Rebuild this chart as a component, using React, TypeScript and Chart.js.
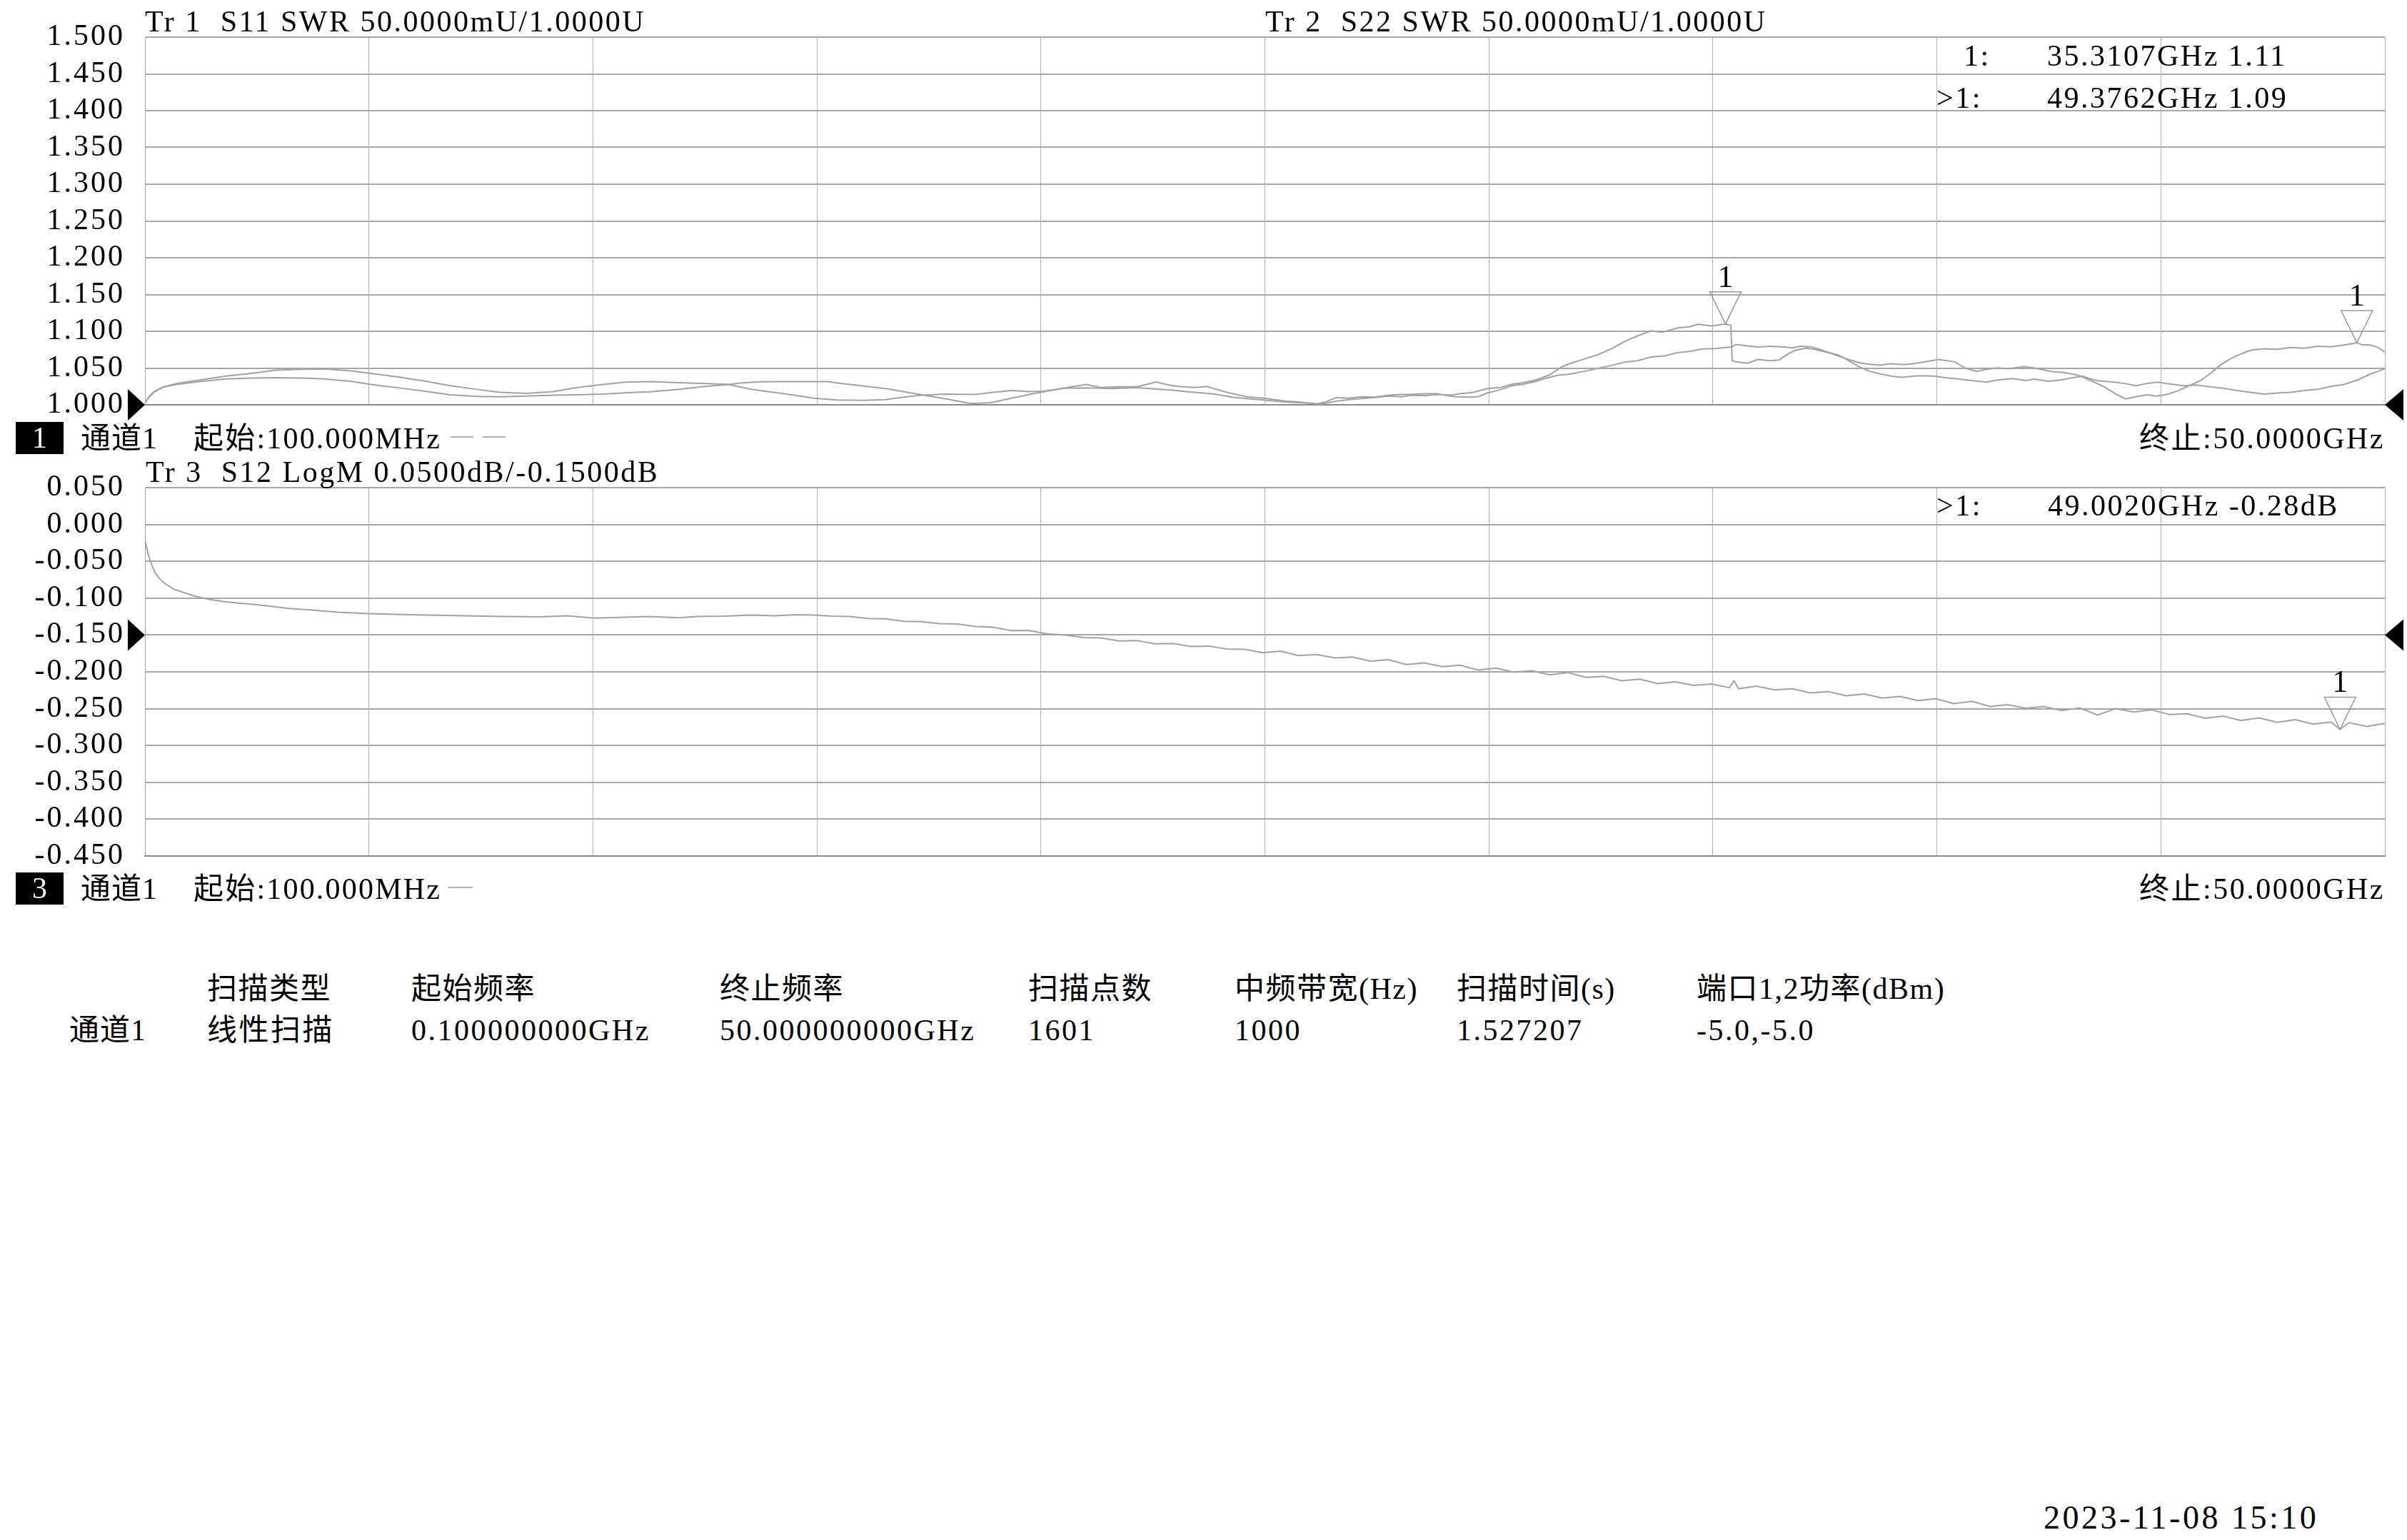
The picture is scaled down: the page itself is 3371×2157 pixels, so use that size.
import React, { useEffect, useRef } from 'react';
import { Chart, registerables } from 'chart.js';

Chart.register(...registerables);

const FONT = "'Liberation Serif', 'Noto Sans CJK SC', serif";
const PAGE_W = 3371;
const PAGE_H = 2157;

// ---- axes ----
const X_MIN = 0.1;
const X_MAX = 50.0;
const X_GRID = [0.1, 5.09, 10.08, 15.07, 20.06, 25.05, 30.04, 35.03, 40.02, 45.01, 50.0];
const TOP_Y_TICKS = [1.0, 1.05, 1.1, 1.15, 1.2, 1.25, 1.3, 1.35, 1.4, 1.45, 1.5];
const BOTTOM_Y_TICKS = [-0.45, -0.4, -0.35, -0.3, -0.25, -0.2, -0.15, -0.1, -0.05, 0.0, 0.05];
const TOP_REF = 1.0;
const BOTTOM_REF = -0.15;

// ---- Tr1: S11 SWR ----
const S11_FREQ = [
  0.1, 0.2, 0.3, 0.5, 0.8, 1.35, 1.9, 2.5, 3.0, 3.6, 4.1, 4.7, 5.1, 5.8, 6.4, 6.9, 7.5, 8.0, 8.6, 9.2,
  9.7, 10.3, 10.8, 11.4, 12.0, 12.5, 13.1, 13.6, 14.4, 15.0, 15.5, 16.1, 16.6, 17.0, 17.4, 17.95, 18.6, 19.0, 19.4, 19.8,
  20.1, 20.6, 21.1, 21.6, 22.2, 22.6, 23.0, 23.3, 23.9, 24.4, 25.0, 25.5, 26.0, 26.3, 26.65, 27.0, 27.2, 27.5, 27.8, 28.1,
  28.3, 28.6, 28.9, 29.2, 29.4, 29.7, 30.0, 30.3, 30.55, 30.8, 31.1, 31.4, 31.67, 31.87, 32.1, 32.46, 32.8, 33.06, 33.3, 33.65,
  33.9, 34.25, 34.5, 34.72, 35.0, 35.31, 35.43, 35.46, 35.55, 35.8, 36.03, 36.3, 36.5, 36.7, 36.86, 37.09, 37.3, 37.45, 37.81, 38.0,
  38.28, 38.5, 38.76, 39.0, 39.23, 39.6, 39.95, 40.2, 40.42, 40.8, 41.13, 41.4, 41.73, 42.0, 42.2, 42.5, 42.8, 43.0, 43.27, 43.45,
  43.63, 43.98, 44.2, 44.46, 44.7, 44.93, 45.2, 45.53, 45.8, 46.12, 46.4, 46.71, 47.0, 47.31, 47.6, 47.9, 48.2, 48.5, 48.8, 49.09,
  49.4, 49.68, 49.85, 50.0,
];
const S11_VAL = [
  1.003, 1.012, 1.018, 1.024, 1.029, 1.034, 1.039, 1.043, 1.047, 1.0484, 1.0487, 1.0461, 1.043, 1.0374, 1.0315, 1.026, 1.021, 1.017, 1.0156, 1.018,
  1.0234, 1.0276, 1.0308, 1.0315, 1.0302, 1.0292, 1.0276, 1.0211, 1.0146, 1.009, 1.0065, 1.006, 1.0071, 1.0105, 1.013, 1.0145, 1.014, 1.017, 1.0195, 1.018,
  1.0185, 1.0225, 1.023, 1.022, 1.0233, 1.0215, 1.02, 1.018, 1.0148, 1.0097, 1.0065, 1.004, 1.0025, 1.001, 1.005, 1.0075, 1.0085, 1.01, 1.012, 1.011,
  1.013, 1.0125, 1.014, 1.013, 1.015, 1.017, 1.022, 1.0235, 1.028, 1.03, 1.034, 1.041, 1.052, 1.0565, 1.061, 1.068, 1.077, 1.086, 1.0925, 1.1007,
  1.0985, 1.1046, 1.106, 1.1097, 1.107, 1.11, 1.108, 1.06, 1.0584, 1.0565, 1.0617, 1.06, 1.061, 1.069, 1.074, 1.077, 1.0755, 1.073, 1.068, 1.062,
  1.052, 1.046, 1.042, 1.039, 1.0373, 1.0395, 1.039, 1.037, 1.0357, 1.033, 1.0308, 1.034, 1.0357, 1.033, 1.035, 1.032, 1.034, 1.0365, 1.039, 1.035,
  1.0325, 1.0308, 1.029, 1.026, 1.029, 1.0308, 1.0285, 1.026, 1.027, 1.0244, 1.0225, 1.0195, 1.017, 1.0146, 1.016, 1.0169, 1.0195, 1.021, 1.025, 1.0276,
  1.034, 1.042, 1.0455, 1.049,
];

// ---- Tr2: S22 SWR ----
const S22_FREQ = [
  0.1, 0.2, 0.3, 0.5, 0.8, 1.35, 1.9, 2.5, 3.0, 3.6, 4.1, 4.7, 5.25, 5.8, 6.4, 6.9, 7.5, 8.0, 8.6, 9.2,
  9.7, 10.3, 10.8, 11.4, 12.0, 12.5, 13.1, 13.4, 13.8, 14.4, 15.3, 15.5, 16.05, 16.6, 17.0, 17.4, 17.95, 18.5, 18.95, 19.4,
  19.96, 20.5, 21.07, 21.4, 21.8, 22.2, 22.63, 22.9, 23.2, 23.5, 23.75, 24.2, 24.64, 25.1, 25.5, 25.8, 26.0, 26.2, 26.4, 26.65,
  26.9, 27.2, 27.5, 27.8, 28.1, 28.3, 28.6, 28.9, 29.1, 29.3, 29.6, 29.8, 30.0, 30.3, 30.55, 30.8, 31.1, 31.3, 31.56, 31.87,
  32.2, 32.5, 32.8, 33.06, 33.35, 33.65, 33.95, 34.25, 34.5, 34.8, 35.1, 35.43, 35.55, 35.8, 36.03, 36.3, 36.62, 36.8, 36.98, 37.2,
  37.45, 37.7, 38.05, 38.3, 38.52, 38.75, 38.99, 39.3, 39.59, 39.8, 40.06, 40.25, 40.42, 40.65, 40.9, 41.1, 41.37, 41.6, 41.96, 42.2,
  42.56, 42.85, 43.15, 43.45, 43.75, 44.0, 44.22, 44.45, 44.7, 44.9, 45.05, 45.2, 45.41, 45.6, 45.88, 46.1, 46.36, 46.6, 46.95, 47.1,
  47.31, 47.6, 47.9, 48.2, 48.5, 48.8, 49.09, 49.25, 49.38, 49.5, 49.68, 49.85, 50.0,
];
const S22_VAL = [
  1.003, 1.011, 1.017, 1.024, 1.0276, 1.0318, 1.0351, 1.0364, 1.037, 1.0364, 1.0351, 1.0318, 1.0266, 1.0227, 1.0179, 1.0136, 1.0114, 1.011, 1.012, 1.013,
  1.0136, 1.0146, 1.0162, 1.0179, 1.0211, 1.0244, 1.0276, 1.0299, 1.0312, 1.0315, 1.0315, 1.0299, 1.026, 1.0221, 1.018, 1.0136, 1.0081, 1.0016, 1.003, 1.009,
  1.016, 1.022, 1.0276, 1.0235, 1.0245, 1.0245, 1.031, 1.027, 1.0245, 1.0235, 1.025, 1.017, 1.011, 1.0085, 1.005, 1.004, 1.0025, 1.001, 1.004, 1.01,
  1.009, 1.011, 1.0105, 1.013, 1.014, 1.014, 1.015, 1.015, 1.0125, 1.011, 1.0105, 1.011, 1.016, 1.0205, 1.026, 1.028, 1.032, 1.036, 1.04, 1.042,
  1.046, 1.05, 1.054, 1.058, 1.06, 1.065, 1.0665, 1.071, 1.0725, 1.076, 1.0765, 1.0786, 1.082, 1.08, 1.0786, 1.0795, 1.0786, 1.0775, 1.0795, 1.079,
  1.0747, 1.069, 1.0617, 1.057, 1.0552, 1.054, 1.0558, 1.0545, 1.0568, 1.059, 1.0617, 1.06, 1.0584, 1.05, 1.0455, 1.048, 1.0503, 1.049, 1.052, 1.05,
  1.0455, 1.044, 1.0406, 1.033, 1.0244, 1.015, 1.0081, 1.011, 1.0136, 1.012, 1.013, 1.015, 1.0195, 1.025, 1.0325, 1.042, 1.0552, 1.064, 1.073, 1.075,
  1.0763, 1.0755, 1.078, 1.077, 1.0795, 1.079, 1.0812, 1.083, 1.0844, 1.0815, 1.0812, 1.078, 1.0714,
];

// ---- Tr3: S12 LogM ----
const S12_FREQ = [
  0.1, 0.17, 0.24, 0.33, 0.42, 0.5, 0.59, 0.75, 0.94, 1.2, 1.55, 1.9, 2.23, 2.6, 2.92, 3.3, 3.78, 4.4, 5.09, 5.7,
  6.37, 7.2, 8.1, 8.9, 9.5, 10.1, 10.68, 11.3, 12.0, 12.4, 13.0, 13.6, 14.12, 14.6, 15.0, 15.4, 15.8, 16.2, 16.6, 17.0,
  17.4, 17.8, 18.2, 18.6, 19.0, 19.4, 19.8, 20.2, 20.6, 21.0, 21.4, 21.8, 22.2, 22.6, 23.0, 23.4, 23.8, 24.2, 24.6, 25.0,
  25.4, 25.8, 26.2, 26.6, 27.0, 27.4, 27.8, 28.2, 28.6, 29.0, 29.4, 29.8, 30.2, 30.6, 31.0, 31.4, 31.8, 32.2, 32.6, 33.0,
  33.4, 33.8, 34.2, 34.6, 35.0, 35.4, 35.5, 35.6, 36.0, 36.4, 36.8, 37.2, 37.6, 38.0, 38.4, 38.8, 39.2, 39.6, 40.0, 40.4,
  40.8, 41.2, 41.6, 42.0, 42.4, 42.8, 43.2, 43.6, 44.0, 44.4, 44.8, 45.2, 45.6, 46.0, 46.4, 46.8, 47.2, 47.6, 48.0, 48.4,
  48.8, 49.0, 49.2, 49.6, 50.0,
];
const S12_VAL = [
  -0.021, -0.04, -0.053, -0.066, -0.073, -0.078, -0.082, -0.088, -0.092, -0.097, -0.102, -0.105, -0.107, -0.109, -0.111, -0.114, -0.116, -0.119, -0.121, -0.122,
  -0.123, -0.124, -0.125, -0.1255, -0.124, -0.127, -0.126, -0.125, -0.1265, -0.125, -0.1245, -0.123, -0.124, -0.1225, -0.123, -0.1245, -0.125, -0.1275, -0.128, -0.1315,
  -0.132, -0.1345, -0.135, -0.1385, -0.1395, -0.144, -0.144, -0.1485, -0.15, -0.1535, -0.154, -0.158, -0.1575, -0.162, -0.1615, -0.1655, -0.165, -0.169, -0.1695, -0.174,
  -0.172, -0.178, -0.1765, -0.181, -0.18, -0.1855, -0.1835, -0.19, -0.188, -0.193, -0.191, -0.1975, -0.195, -0.2005, -0.1985, -0.204, -0.201, -0.2075, -0.206, -0.212,
  -0.21, -0.216, -0.2135, -0.2185, -0.2165, -0.2215, -0.212, -0.223, -0.2195, -0.2245, -0.223, -0.2285, -0.227, -0.2325, -0.23, -0.2355, -0.2335, -0.239, -0.2365, -0.243,
  -0.24, -0.247, -0.2445, -0.2495, -0.247, -0.2525, -0.249, -0.2585, -0.25, -0.2545, -0.2515, -0.258, -0.257, -0.263, -0.26, -0.266, -0.2625, -0.2685, -0.265, -0.271,
  -0.268, -0.278, -0.269, -0.274, -0.27,
];

// ---- markers ----
const TOP_MARKER_FREQ = [35.3107, 49.3762];
const TOP_MARKER_VAL = [1.11, 1.0844];
const BOTTOM_MARKER_FREQ = [49.002];
const BOTTOM_MARKER_VAL = [-0.278];

// ---- texts ----
const TITLE_TR1 = 'Tr 1  S11 SWR 50.0000mU/1.0000U';
const TITLE_TR2 = 'Tr 2  S22 SWR 50.0000mU/1.0000U';
const TITLE_TR3 = 'Tr 3  S12 LogM 0.0500dB/-0.1500dB';
const TOP_READOUT_PREFIX = ['1:', '>1:'];
const TOP_READOUT_VALUE = ['35.3107GHz 1.11', '49.3762GHz 1.09'];
const BOTTOM_READOUT_PREFIX = ['>1:'];
const BOTTOM_READOUT_VALUE = ['49.0020GHz -0.28dB'];
const CHANNEL_LABEL = '通道1';
const START_LABEL = '起始:100.000MHz';
const STOP_LABEL = '终止:50.0000GHz';
const TABLE_HEAD = ['扫描类型', '起始频率', '终止频率', '扫描点数', '中频带宽(Hz)', '扫描时间(s)', '端口1,2功率(dBm)'];
const TABLE_ROW = ['线性扫描', '0.100000000GHz', '50.000000000GHz', '1601', '1000', '1.527207', '-5.0,-5.0'];
const DATE_LABEL = '2023-11-08 15:10';

const TRACE_COLOR = '#a2a2a2';

const overlayPlugin = {
  id: 'vnaOverlay',
  beforeDraw(chart: any) {
    const ctx = chart.ctx as any;
    ctx.letterSpacing = '3px';
  },
  afterDatasetsDraw(chart: any, _args: any, opts: any) {
    const { ctx, chartArea, scales } = chart;
    const xs = scales.x;
    const ys = scales.y;
    ctx.save();
    const ry = ys.getPixelForValue(opts.ref);
    ctx.fillStyle = '#000';
    ctx.beginPath();
    ctx.moveTo(chartArea.left - 24, ry - 22);
    ctx.lineTo(chartArea.left, ry);
    ctx.lineTo(chartArea.left - 24, ry + 22);
    ctx.closePath();
    ctx.fill();
    ctx.beginPath();
    ctx.moveTo(chartArea.right + 26, ry - 22);
    ctx.lineTo(chartArea.right, ry);
    ctx.lineTo(chartArea.right + 26, ry + 22);
    ctx.closePath();
    ctx.fill();
    const mf: number[] = opts.markerFreq;
    const mv: number[] = opts.markerVal;
    for (let i = 0; i < mf.length; i++) {
      const px = xs.getPixelForValue(mf[i]);
      const py = ys.getPixelForValue(mv[i]);
      ctx.strokeStyle = '#9a9a9a';
      ctx.lineWidth = 1.5;
      ctx.beginPath();
      ctx.moveTo(px, py);
      ctx.lineTo(px - 22, py - 45);
      ctx.lineTo(px + 22, py - 45);
      ctx.closePath();
      ctx.stroke();
      ctx.fillStyle = '#000';
      ctx.font = `44px ${FONT}`;
      (ctx as any).letterSpacing = '0px';
      ctx.textAlign = 'center';
      ctx.textBaseline = 'alphabetic';
      ctx.fillText('1', px, py - 52);
    }
    ctx.restore();
  },
};

function makeConfig(datasets: any[], yTicks: number[], ref: number, markerFreq: number[], markerVal: number[], padding: any) {
  return {
    type: 'line',
    data: { datasets },
    options: {
      animation: false,
      responsive: false,
      devicePixelRatio: 1,
      layout: { padding },
      plugins: {
        legend: { display: false },
        tooltip: { enabled: false },
        vnaOverlay: { ref, markerFreq, markerVal },
      },
      elements: { point: { radius: 0 }, line: { tension: 0 } },
      scales: {
        x: {
          type: 'linear',
          min: X_MIN,
          max: X_MAX,
          afterBuildTicks: (s: any) => {
            s.ticks = X_GRID.map((v) => ({ value: v }));
          },
          afterFit: (s: any) => {
            s.height = 0;
          },
          ticks: { display: false },
          grid: { color: '#b6b6b6', lineWidth: 1, drawTicks: false },
          border: { color: '#8a8a8a', width: 2 },
        },
        y: {
          type: 'linear',
          min: yTicks[0],
          max: yTicks[yTicks.length - 1],
          afterBuildTicks: (s: any) => {
            s.ticks = yTicks.map((v) => ({ value: v }));
          },
          afterFit: (s: any) => {
            s.width = 203;
            s.paddingTop = 0;
            s.paddingBottom = 0;
          },
          ticks: {
            color: '#000',
            autoSkip: false,
            padding: 28,
            font: { family: FONT, size: 42, lineHeight: 0.02 },
            callback: (v: any) => Number(v).toFixed(3),
          },
          grid: { color: '#a6a6a6', lineWidth: 2, drawTicks: false },
          border: { color: '#a6a6a6', width: 1 },
        },
      },
    },
    plugins: [overlayPlugin],
  };
}

function toPoints(f: number[], v: number[]) {
  return f.map((x, i) => ({ x, y: v[i] }));
}

type TxtProps = { x: number; cy: number; text: string; size?: number; right?: boolean; ls?: number; color?: string };
function Txt({ x, cy, text, size = 42, right = false, ls = 2.5, color = '#000' }: TxtProps) {
  const style: any = {
    position: 'absolute',
    top: cy - size / 2,
    fontSize: size,
    lineHeight: `${size}px`,
    whiteSpace: 'pre',
    fontFamily: FONT,
    letterSpacing: `${ls}px`,
    color,
  };
  if (right) style.right = PAGE_W - x;
  else style.left = x;
  return <div style={style}>{text}</div>;
}

function ChannelStrip({ cy, num, dashes }: { cy: number; num: string; dashes: number[][] }) {
  return (
    <>
      <div
        style={{
          position: 'absolute',
          left: 22,
          top: cy - 23,
          width: 67,
          height: 45,
          background: '#000',
          color: '#fff',
          fontFamily: FONT,
          fontSize: 42,
          lineHeight: '45px',
          textAlign: 'center',
        }}
      >
        {num}
      </div>
      <Txt x={113} cy={cy} text={CHANNEL_LABEL} ls={1} />
      <Txt x={271} cy={cy} text={START_LABEL} ls={2.2} />
      {dashes.map((d, i) => (
        <div key={i} style={{ position: 'absolute', left: d[0], top: cy - 3, width: d[1] - d[0], height: 2, background: '#b0b0b0' }} />
      ))}
      <Txt x={3340} cy={cy} text={STOP_LABEL} right ls={2.5} />
    </>
  );
}

export default function App() {
  const topRef = useRef<HTMLCanvasElement>(null);
  const botRef = useRef<HTMLCanvasElement>(null);

  useEffect(() => {
    const top = new Chart(
      topRef.current as HTMLCanvasElement,
      makeConfig(
        [
          { label: 'S11', data: toPoints(S11_FREQ, S11_VAL), borderColor: TRACE_COLOR, borderWidth: 2 },
          { label: 'S22', data: toPoints(S22_FREQ, S22_VAL), borderColor: TRACE_COLOR, borderWidth: 2 },
        ],
        TOP_Y_TICKS,
        TOP_REF,
        TOP_MARKER_FREQ,
        TOP_MARKER_VAL,
        { top: 52, right: 31, bottom: 33, left: 0 }
      ) as any
    );
    const bot = new Chart(
      botRef.current as HTMLCanvasElement,
      makeConfig(
        [{ label: 'S12', data: toPoints(S12_FREQ, S12_VAL), borderColor: TRACE_COLOR, borderWidth: 2 }],
        BOTTOM_Y_TICKS,
        BOTTOM_REF,
        BOTTOM_MARKER_FREQ,
        BOTTOM_MARKER_VAL,
        { top: 43, right: 31, bottom: 41, left: 0 }
      ) as any
    );
    return () => {
      top.destroy();
      bot.destroy();
    };
  }, []);

  const colX = [290, 576, 1008, 1440, 1729, 2040, 2376];

  return (
    <div style={{ position: 'absolute', left: 0, top: 0, width: PAGE_W, height: PAGE_H, background: '#fff', overflow: 'hidden' }}>
      <canvas ref={topRef} width={PAGE_W} height={600} style={{ position: 'absolute', left: 0, top: 0, width: PAGE_W, height: 600 }} />
      <canvas ref={botRef} width={PAGE_W} height={600} style={{ position: 'absolute', left: 0, top: 640, width: PAGE_W, height: 600 }} />

      <Txt x={203} cy={30} text={TITLE_TR1} />
      <Txt x={1772} cy={30} text={TITLE_TR2} />
      <Txt x={2750} cy={78} text={TOP_READOUT_PREFIX[0]} />
      <Txt x={2867} cy={78} text={TOP_READOUT_VALUE[0]} />
      <Txt x={2712} cy={137} text={TOP_READOUT_PREFIX[1]} />
      <Txt x={2867} cy={137} text={TOP_READOUT_VALUE[1]} />

      <ChannelStrip cy={614} num="1" dashes={[[631, 663], [676, 708]]} />

      <Txt x={204} cy={661} text={TITLE_TR3} />
      <Txt x={2712} cy={708} text={BOTTOM_READOUT_PREFIX[0]} />
      <Txt x={2868} cy={708} text={BOTTOM_READOUT_VALUE[0]} />

      <ChannelStrip cy={1245} num="3" dashes={[[628, 662]]} />

      {TABLE_HEAD.map((t, i) => (
        <Txt key={'h' + i} x={colX[i]} cy={1385} text={t} ls={1.5} />
      ))}
      <Txt x={97} cy={1443} text={CHANNEL_LABEL} ls={1} />
      {TABLE_ROW.map((t, i) => (
        <Txt key={'r' + i} x={colX[i]} cy={1443} text={t} ls={2.5} />
      ))}

      <Txt x={2862} cy={2126} text={DATE_LABEL} size={46} ls={3.5} />
    </div>
  );
}
